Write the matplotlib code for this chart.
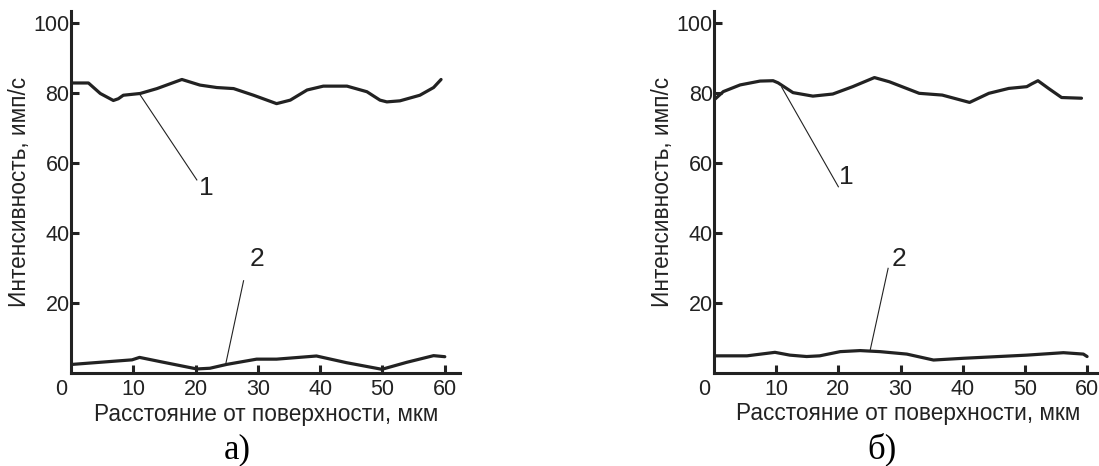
import matplotlib.pyplot as plt

plt.rcParams['font.family'] = ['Liberation Sans', 'DejaVu Sans']

# Панель а) - кривая 1
x_a1 = [0, 2.8, 4.7, 6.8, 7.6, 8.4, 11.1, 13.8, 17.8, 20.7, 23.4, 26.1, 29.3, 33.0,
        35.2, 37.9, 40.5, 44.3, 47.5, 49.6, 50.7, 52.8, 56.0, 58.2, 59.4]
y_a1 = [83.0, 83.0, 80.0, 78.0, 78.5, 79.5, 80.0, 81.4, 84.0, 82.4, 81.7, 81.4, 79.5, 77.1,
        78.1, 81.0, 82.1, 82.1, 80.5, 78.1, 77.6, 77.9, 79.5, 81.7, 84.0]
# Панель а) - кривая 2
x_a2 = [0.2, 9.8, 11.0, 14.3, 20.2, 22.3, 25.0, 29.8, 33.0, 39.4, 44.2, 49.9, 53.9, 58.2, 60.0]
y_a2 = [2.6, 3.9, 4.6, 3.4, 1.3, 1.5, 2.6, 4.1, 4.1, 5.0, 3.1, 1.2, 3.2, 5.1, 4.8]

# Панель б) - кривая 1
x_b1 = [0, 1.5, 4.2, 7.4, 9.5, 10.3, 12.7, 15.9, 19.1, 22.3, 25.8, 28.2, 33.0, 36.7,
        41.1, 44.2, 47.4, 50.3, 51.1, 52.1, 53.8, 55.9, 59.1]
y_b1 = [78.0, 80.4, 82.3, 83.4, 83.5, 82.9, 80.1, 79.1, 79.7, 81.8, 84.4, 83.2, 79.9, 79.4,
        77.3, 79.9, 81.3, 81.8, 82.6, 83.5, 81.3, 78.7, 78.5]
# Панель б) - кривая 2
x_b2 = [0.2, 5.3, 9.8, 12.2, 14.9, 17.0, 20.3, 23.5, 26.7, 31.0, 35.3, 40.1, 50.3, 56.2, 59.4, 60.0]
y_b2 = [4.9, 4.9, 5.9, 5.1, 4.7, 4.9, 6.1, 6.4, 6.1, 5.4, 3.7, 4.2, 5.1, 5.8, 5.4, 4.7]

XTICKS = [10, 20, 30, 40, 50, 60]
YTICKS = [20, 40, 60, 80, 100]
INK = '#222222'

# выноски: (точка на кривой, конец линии, позиция подписи, текст)
leaders_a = [((11.1, 79.6), (20.2, 55.3), (21.7, 53.0), '1'),
             ((24.8, 2.4), (27.7, 26.5), (29.8, 32.6), '2')]
leaders_b = [((10.9, 81.6), (20.0, 53.2), (21.3, 55.9), '1'),
             ((25.1, 6.4), (28.0, 29.9), (29.7, 32.5), '2')]

panels = [
    ([0.0646, 0.1985, 0.3543, 0.7774], (x_a1, y_a1), (x_a2, y_a2), leaders_a, 'а)', 0.216),
    ([0.6497, 0.1996, 0.3536, 0.7774], (x_b1, y_b1), (x_b2, y_b2), leaders_b, 'б)', 0.803),
]

fig = plt.figure(figsize=(10.99, 4.66), dpi=100)

for rect, c1, c2, leaders, caption, cap_x in panels:
    ax = fig.add_axes(rect)
    ax.plot(c1[0], c1[1], color=INK, lw=2.3, solid_joinstyle='round', solid_capstyle='round')
    ax.plot(c2[0], c2[1], color=INK, lw=2.3, solid_joinstyle='round', solid_capstyle='round')

    for (x0, y0), (x1, y1), (tx, ty), txt in leaders:
        ax.plot([x0, x1], [y0, y1], color=INK, lw=0.8)
        ax.text(tx, ty, txt, fontsize=19, color=INK, ha='center', va='center')

    ax.set_xlim(0, 62.5)
    ax.set_ylim(0, 103.5)
    ax.set_xticks(XTICKS)
    ax.set_yticks(YTICKS)
    ax.spines['top'].set_visible(False)
    ax.spines['right'].set_visible(False)
    for s in ['left', 'bottom']:
        ax.spines[s].set_linewidth(2.2)
        ax.spines[s].set_color(INK)
    ax.tick_params(direction='in', length=6, width=2.2, color=INK,
                   labelsize=15.5, labelcolor=INK)
    ax.tick_params(axis='y', pad=1)
    ax.tick_params(axis='x', pad=4)
    ax.annotate('0', xy=(0, 0), xytext=(-7, -4), textcoords='offset points',
                ha='center', va='top', fontsize=15.5, color=INK)

    ax.set_xlabel('Расстояние от поверхности, мкм', fontsize=16.3, color=INK, labelpad=2)
    ax.set_ylabel('Интенсивность, имп/с', fontsize=16.3, color=INK, labelpad=2)

    fig.text(cap_x, 0.035, caption, fontsize=25, family='Liberation Serif',
             ha='center', va='center', color='black')

fig.savefig('out.png', dpi=100)
